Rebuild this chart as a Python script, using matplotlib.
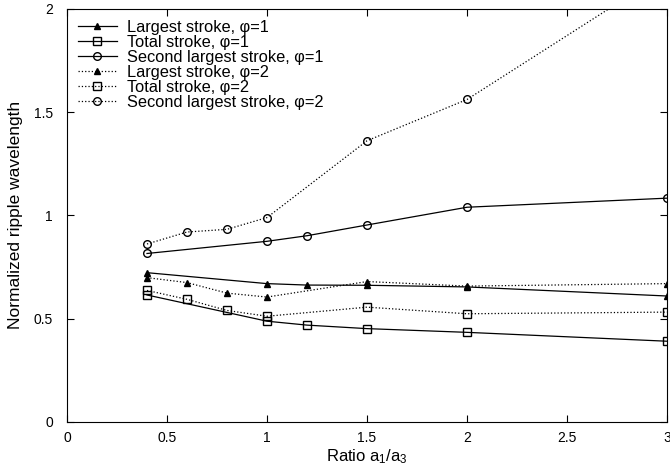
import matplotlib
matplotlib.use("Agg")
import matplotlib.pyplot as plt

plt.rcParams['font.family'] = ['Liberation Sans', 'DejaVu Sans']
plt.rcParams['mathtext.fontset'] = 'custom'
plt.rcParams['mathtext.rm'] = 'Liberation Sans'

# ratio a1/a3
x_phi1 = [0.4, 1.0, 1.2, 1.5, 2.0, 3.0]
x_phi2 = [0.4, 0.6, 0.8, 1.0, 1.5, 2.0, 3.0]

# phi = 1 (solid)
largest_phi1 = [0.722, 0.669, 0.662, 0.661, 0.653, 0.609]
total_phi1 = [0.614, 0.487, 0.468, 0.451, 0.433, 0.390]
second_phi1 = [0.815, 0.874, 0.901, 0.953, 1.039, 1.083]

# phi = 2 (dotted)
largest_phi2 = [0.698, 0.674, 0.623, 0.604, 0.679, 0.657, 0.669]
total_phi2 = [0.636, 0.593, 0.539, 0.511, 0.555, 0.523, 0.531]
second_phi2 = [0.861, 0.919, 0.932, 0.989, 1.361, 1.561, 2.18]

fig = plt.figure(figsize=(6.7, 4.66), dpi=100)
ax = fig.add_axes([0.1, 0.095, 0.8955, 0.886])

common = dict(color='black', linewidth=0.9)
ax.plot(x_phi1, largest_phi1, '-', marker='^', markersize=5,
        markerfacecolor='black', label='Largest stroke, φ=1', **common)
ax.plot(x_phi1, total_phi1, '-', marker='s', markersize=5.5,
        markerfacecolor='none', label='Total stroke, φ=1', **common)
ax.plot(x_phi1, second_phi1, '-', marker='o', markersize=5.5,
        markerfacecolor='none', label='Second largest stroke, φ=1', **common)
ax.plot(x_phi2, largest_phi2, ':', marker='^', markersize=5,
        markerfacecolor='black', label='Largest stroke, φ=2', **common)
ax.plot(x_phi2, total_phi2, ':', marker='s', markersize=5.5,
        markerfacecolor='none', label='Total stroke, φ=2', **common)
ax.plot(x_phi2, second_phi2, ':', marker='o', markersize=5.5,
        markerfacecolor='none', label='Second largest stroke, φ=2', **common)

ax.set_xlim(0, 3)
ax.set_ylim(0, 2)
ax.set_xticks([0, 0.5, 1, 1.5, 2, 2.5, 3])
ax.set_xticklabels(['0', '0.5', '1', '1.5', '2', '2.5', '3'])
ax.set_yticks([0, 0.5, 1, 1.5, 2])
ax.set_yticklabels(['0', '0.5', '1', '1.5', '2'])
ax.tick_params(direction='in', top=True, right=True, length=5, labelsize=10)
ax.tick_params(axis='x', pad=7)
ax.tick_params(axis='y', pad=10)

ax.set_xlabel(r'Ratio $\mathregular{a_1/a_3}$', fontsize=12, labelpad=1)
ax.set_ylabel('Normalized ripple wavelength', fontsize=12.5, labelpad=8)

ax.legend(loc='upper left', frameon=False, fontsize=11.8, handlelength=2.4,
          labelspacing=0.0, borderaxespad=0.25, handletextpad=0.6)

fig.savefig('out.png', dpi=100)
